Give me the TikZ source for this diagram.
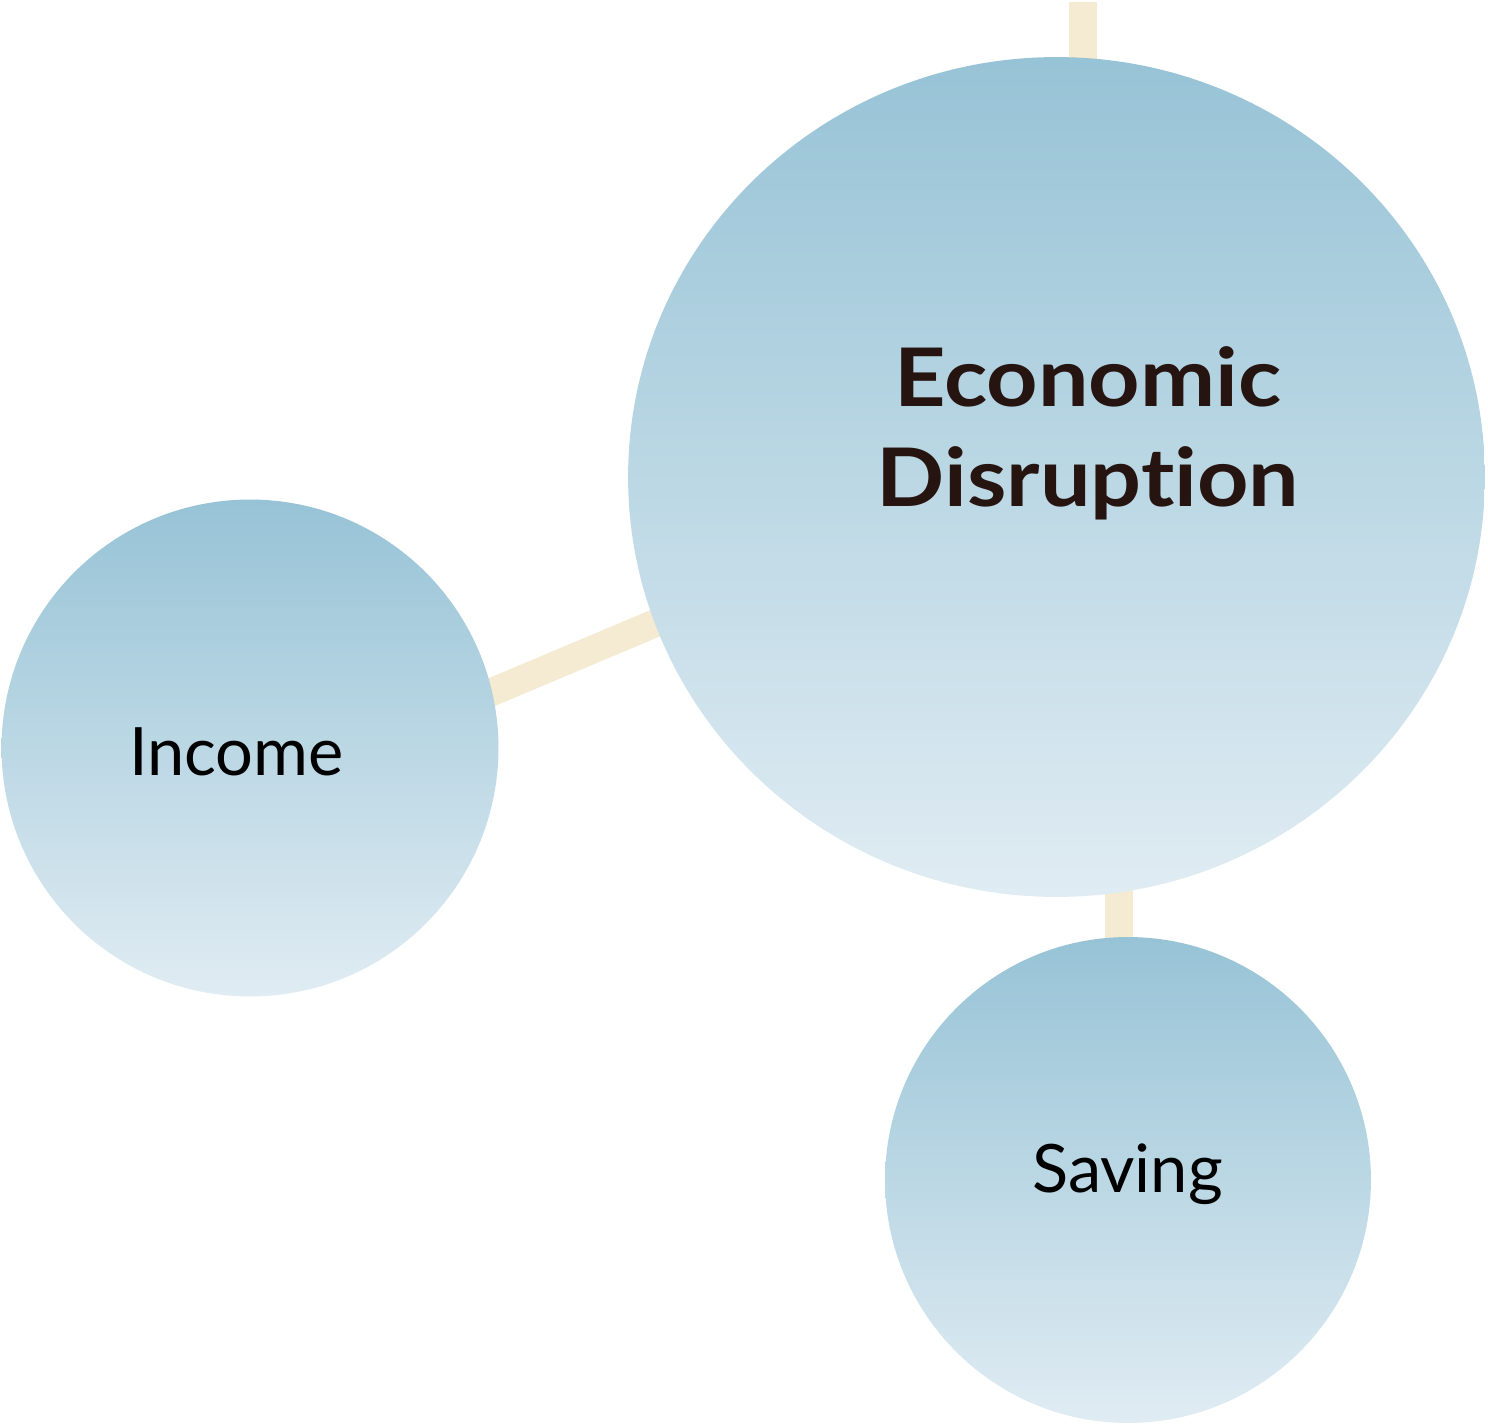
\documentclass[tikz,border=0pt]{standalone}
\usepackage{xcolor}
\definecolor{bubbletop}{HTML}{97C3D6}
\definecolor{bubblebottom}{HTML}{E0ECF3}
\definecolor{linkc}{HTML}{F5EAD2}
\definecolor{darktext}{HTML}{261410}
\usepackage{fontspec}
\setmainfont{Lato}[Ligatures=NoCommon]
\newfontfamily\widebold{Lato}[Ligatures=NoCommon,FakeStretch=1.11]
\usepackage{tikz}
\usetikzlibrary{backgrounds}
\usetikzlibrary{shapes,shapes.geometric}
\usetikzlibrary{positioning}
\tikzstyle{bubble} = [circle, top color=bubbletop, bottom color=bubblebottom,
    draw=none, inner sep=0pt]
\tikzstyle{bubbletext} = [text=black, font=\fontsize{38}{46}\selectfont, inner sep=0pt]
\tikzstyle{link} = [draw, line width=0.56cm, color=linkc]

\begin{document}
\begin{tikzpicture}[x=0.02cm,y=-0.02cm]
    \useasboundingbox (0,0) rectangle (1488,1425);

    % Place nodes
    \node [bubble,ellipse,minimum width=17.14cm,minimum height=16.8cm] (disrupt) at (1056.5,477) {};
    \node [bubble,minimum size=9.94cm] (income) at (250,748) {};
    \node [bubble,minimum size=9.72cm] (saving) at (1128,1180) {};

    %position link ends
    \coordinate (topend) at (1083,2);
    \coordinate (saveend) at (1119,880);

    % Place labels
    \node [bubbletext,font=\widebold\bfseries\fontsize{46}{57}\selectfont,text=darktext,align=center] (disrupttext) at (1088,433) {Economic\\Disruption};
    \node [bubbletext,anchor=base] (incometext) at (236.5,775) {Income};
    \node [bubbletext,anchor=base] (savingtext) at (1127.5,1192) {Saving};

    % Draw edges
    \begin{scope}[on background layer]
    \path [link] (topend) -- (topend |- disrupt.north) -- ++(0,30);
    \path [link] ([shift={(-10,4)}]income.13) -- ([shift={(10,-4)}]disrupt.200);
    \path [link] (saveend) -- (saveend |- saving.north) -- ++(0,30);
    \end{scope}
\end{tikzpicture}
\end{document}
